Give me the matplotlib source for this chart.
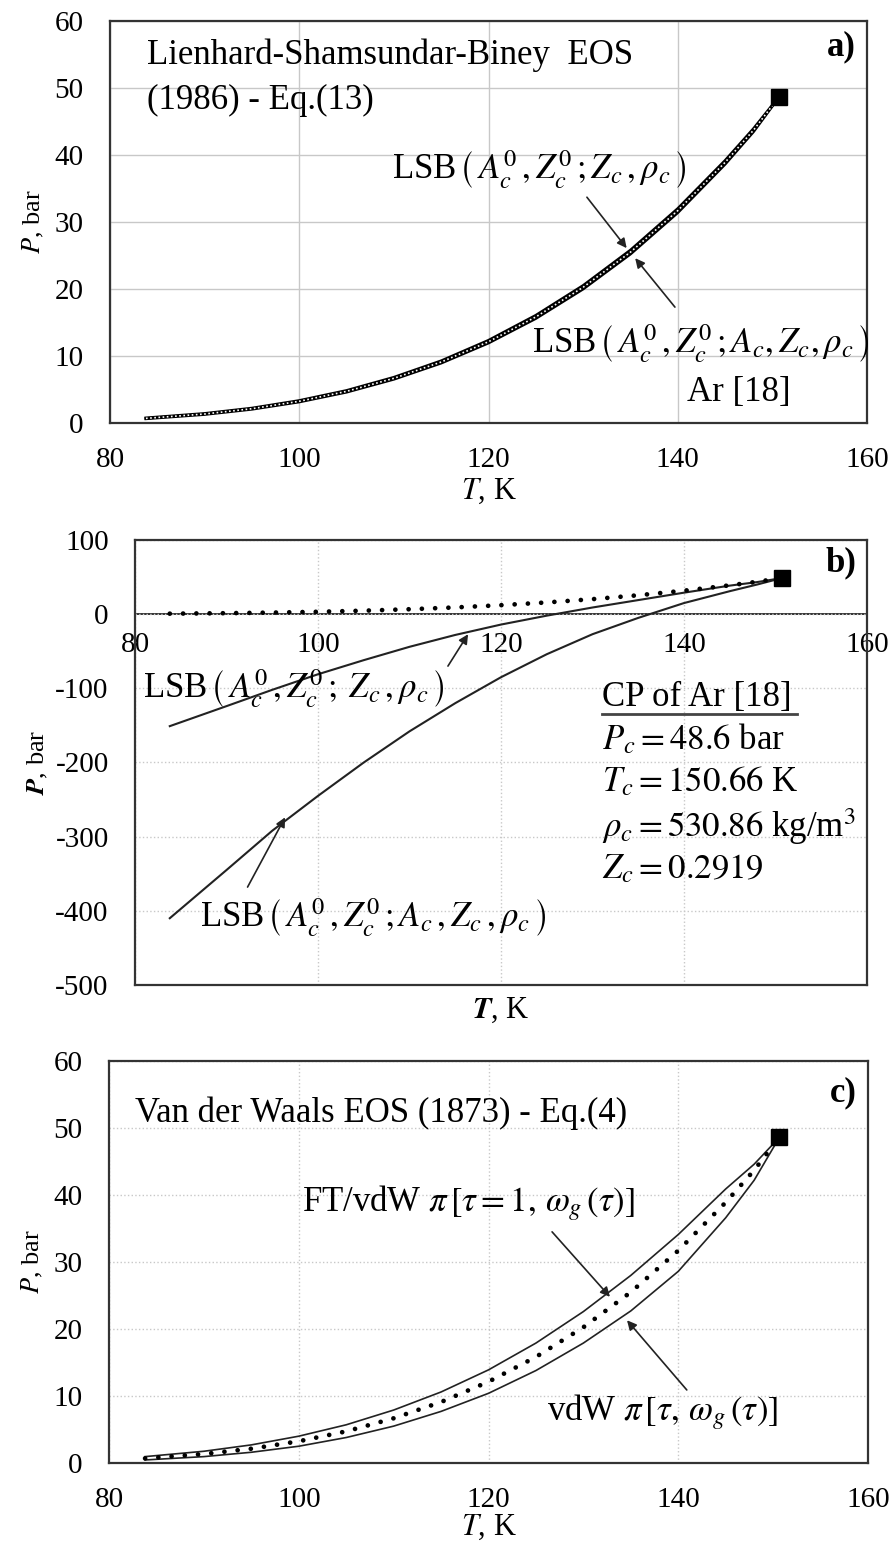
import matplotlib.pyplot as plt
from matplotlib.lines import Line2D

plt.rcParams['font.family'] = 'Liberation Serif'
plt.rcParams['mathtext.fontset'] = 'stix'
plt.rcParams['axes.unicode_minus'] = False

# Critical point of argon [18]
T_crit = 150.66
P_crit = 48.6

# Saturation pressure of Ar [18], bar
T_ar = [83.8, 90, 95, 100, 105, 110, 115, 120, 125, 130, 135, 140, 145, 148, 150.66]
P_ar = [0.69, 1.34, 2.13, 3.24, 4.72, 6.67, 9.10, 12.13, 15.83, 20.26, 25.5, 31.7, 38.9, 43.7, 48.6]

# a) LSB curves
P_lsb_zr_a = [0.74, 1.40, 2.20, 3.33, 4.83, 6.80, 9.26, 12.32, 16.05, 20.50, 25.78, 31.98, 39.15, 43.9, 48.6]
P_lsb_azr_a = [0.65, 1.29, 2.07, 3.16, 4.62, 6.55, 8.96, 11.96, 15.62, 20.02, 25.24, 31.42, 38.65, 43.5, 48.6]

# b) LSB curves
P_lsb_zr_b = [-151, -124, -102, -81, -62, -44, -28, -14, -2, 9, 19, 29, 38.5, 43.3, 48.6]
P_lsb_azr_b = [-410, -345, -292, -245, -200, -158, -120, -85, -54, -27, -5, 15, 31, 40, 48.6]

# c) van der Waals curves
P_ftvdw = [0.95, 1.75, 2.7, 4.0, 5.7, 7.9, 10.6, 13.9, 17.9, 22.6, 28.0, 34.1, 40.9, 44.6, 48.6]
P_vdw = [0.45, 0.95, 1.6, 2.5, 3.8, 5.5, 7.7, 10.4, 13.8, 17.9, 22.7, 28.6, 36.6, 42.2, 48.6]

x_ticks = [80, 100, 120, 140, 160]

fig = plt.figure(figsize=(8.93, 15.46), dpi=100)
ax_a = fig.add_axes([0.1232, 0.7264, 0.8477, 0.2600])
ax_b = fig.add_axes([0.1512, 0.3629, 0.8197, 0.2878])
ax_c = fig.add_axes([0.1221, 0.0537, 0.8499, 0.2600])


def style(ax, grid_ls):
    ax.grid(True, color='#c8c8c8', lw=1.0, ls=grid_ls)
    ax.set_axisbelow(True)
    ax.tick_params(length=0, labelsize=21)
    ax.tick_params(axis='y', pad=19)
    ax.tick_params(axis='x', pad=17)
    for s in ax.spines.values():
        s.set_linewidth(1.6)
        s.set_color('#333333')
    ax.set_xlim(80, 160)
    ax.set_xticks(x_ticks)


def arrow(ax, tip, tail):
    ax.annotate('', xy=tip, xytext=tail,
                arrowprops=dict(arrowstyle='-|>', color='#222222', lw=1.2,
                                mutation_scale=14, shrinkA=0, shrinkB=0))


dots = dict(color='black', lw=3.4, ls=(0, (0.01, 2.8)), dash_capstyle='round')
fs = 25

# ---- a) ----
style(ax_a, '-')
ax_a.set_ylim(0, 60)
ax_a.set_yticks(range(0, 61, 10))
ax_a.plot(T_ar, P_lsb_zr_a, color='black', lw=2.2)
ax_a.plot(T_ar, P_lsb_azr_a, color='black', lw=2.2)
ax_a.plot(T_ar, P_ar, color='white', lw=1.2, ls=(0, (1, 1.5)))
ax_a.plot([T_crit], [P_crit], 's', color='black', ms=11)
ax_a.text(83.9, 54.9, 'Lienhard-Shamsundar-Biney  EOS', fontsize=fs, va='center')
ax_a.text(83.9, 48.2, '(1986) - Eq.(13)', fontsize=fs, va='center')
ax_a.text(0.985, 0.935, 'a)', transform=ax_a.transAxes, fontsize=fs,
          fontweight='bold', ha='right', va='center')
ax_a.text(109.8, 37.8, r'LSB$\,\left(\,A_c^0\,,Z_c^0\,;Z_c\,,\rho_c\,\right)$',
          fontsize=fs, va='center')
ax_a.text(124.6, 11.9, r'LSB$\,\left(\,A_c^0\,,Z_c^0\,;A_c,Z_c,\rho_c\,\right)$',
          fontsize=fs, va='center')
ax_a.text(141.0, 4.6, 'Ar [18]', fontsize=fs, va='center')
arrow(ax_a, (134.6, 26.1), (130.4, 33.7))
arrow(ax_a, (135.5, 24.6), (139.7, 17.3))
ax_a.set_xlabel(r'$T$, K', fontsize=22, labelpad=3)
ax_a.set_ylabel(r'$P$, bar', fontsize=19, labelpad=6)

# ---- b) ----
style(ax_b, ':')
ax_b.set_ylim(-500, 100)
ax_b.set_yticks(range(-500, 101, 100))
ax_b.tick_params(axis='x', labelbottom=False)
sec = ax_b.secondary_xaxis(500 / 600)
sec.set_alignment('bottom')
sec.set_xticks(x_ticks)
sec.tick_params(length=0, labelsize=21, pad=13)
for s in sec.spines.values():
    s.set_linewidth(1.4)
    s.set_color('#333333')
ax_b.plot(T_ar, P_lsb_zr_b, color='#222222', lw=1.5)
ax_b.plot(T_ar, P_lsb_azr_b, color='#222222', lw=1.5)
ax_b.plot(T_ar, P_ar, **dots)
ax_b.plot([T_crit], [P_crit], 's', color='black', ms=11)
ax_b.text(0.985, 0.948, 'b)', transform=ax_b.transAxes, fontsize=fs,
          fontweight='bold', ha='right', va='center')
ax_b.text(80.9, -101, r'LSB$\,\left(\,A_c^0\,,Z_c^0\,;\;Z_c\,,\rho_c\,\right)$',
          fontsize=fs, va='center')
ax_b.text(87.1, -409, r'LSB$\,\left(\,A_c^0\,,Z_c^0\,;A_c\,,Z_c\,,\rho_c\,\right)$',
          fontsize=fs, va='center')
arrow(ax_b, (116.4, -27), (114.2, -70))
arrow(ax_b, (96.4, -274), (92.3, -368))
cp_lines = ['CP of Ar [18]', r'$P_c = 48.6$ bar', r'$T_c = 150.66$ K',
            r'$\rho_c = 530.86$ kg/m$^3$', r'$Z_c = 0.2919$']
cp_y = [-113, -170, -227, -286, -345]
for s, y in zip(cp_lines, cp_y):
    ax_b.text(131.0, y, s, fontsize=fs, va='center')
ax_b.add_line(Line2D([131.0, 152.4], [-135, -135], color='#444444', lw=2))
ax_b.set_xlabel(r'$\mathbfit{T}$, K', fontsize=22, labelpad=8)
ax_b.set_ylabel(r'$\mathbfit{P}$, bar', fontsize=19, labelpad=4)

# ---- c) ----
style(ax_c, ':')
ax_c.set_ylim(0, 60)
ax_c.set_yticks(range(0, 61, 10))
ax_c.plot(T_ar, P_ftvdw, color='#222222', lw=1.2)
ax_c.plot(T_ar, P_vdw, color='#222222', lw=1.2)
ax_c.plot(T_ar, P_ar, **dots)
ax_c.plot([T_crit], [P_crit], 's', color='black', ms=11)
ax_c.text(82.7, 52.2, 'Van der Waals EOS (1873) - Eq.(4)', fontsize=fs, va='center')
ax_c.text(0.985, 0.92, 'c)', transform=ax_c.transAxes, fontsize=fs,
          fontweight='bold', ha='right', va='center')
ax_c.text(100.3, 38.8, r'FT/vdW $\pi\,[\tau = 1,\, \omega_g\,(\tau)]$',
          fontsize=fs, va='center')
ax_c.text(126.2, 7.6, r'vdW $\pi\,[\tau,\, \omega_g\,(\tau)]$',
          fontsize=fs, va='center')
arrow(ax_c, (132.8, 24.8), (126.7, 34.5))
arrow(ax_c, (134.6, 21.3), (140.9, 10.9))
ax_c.set_xlabel(r'$T$, K', fontsize=22, labelpad=0)
ax_c.set_ylabel(r'$P$, bar', fontsize=19, labelpad=6)

fig.savefig('out.png', dpi=100)
